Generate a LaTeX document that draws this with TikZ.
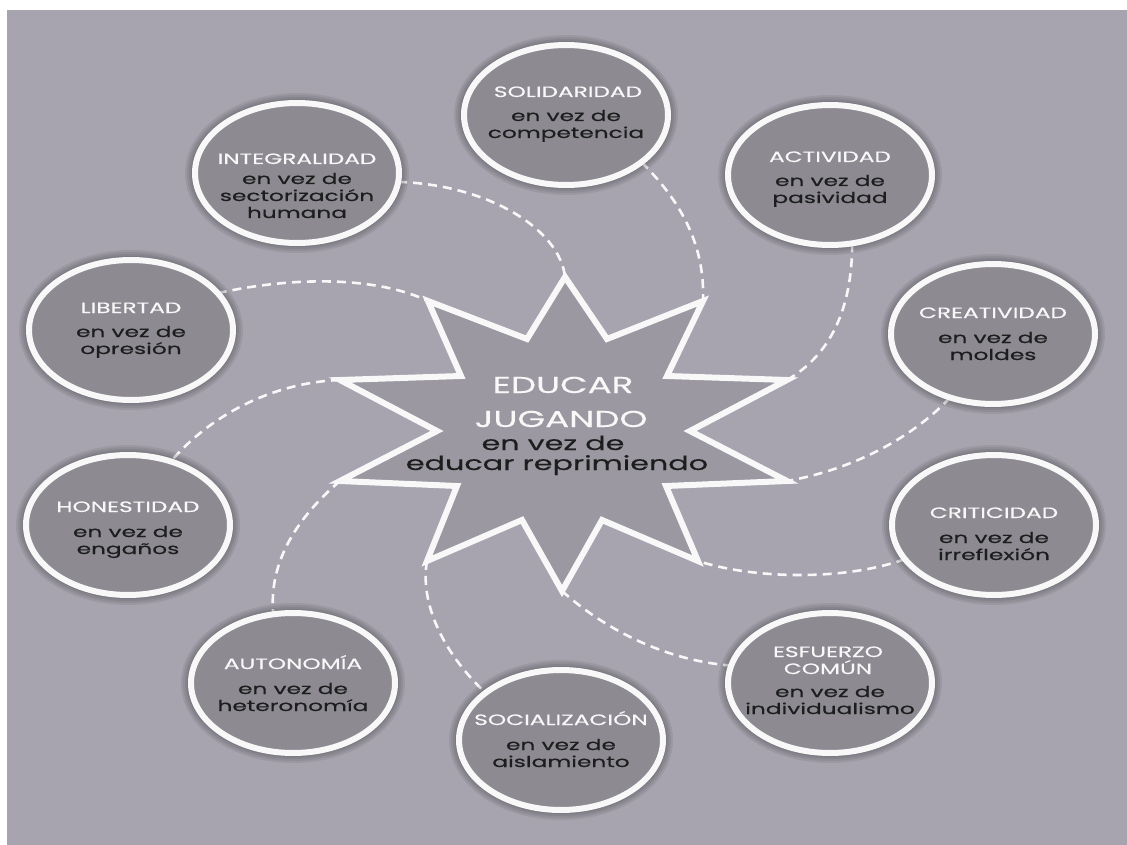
\documentclass[tikz,border=0pt]{standalone}
\usepackage{fontspec}
\usetikzlibrary{shapes.geometric}
\newfontfamily\tfont[FakeStretch=1.55,FakeBold=0.3]{Poppins}
\newfontfamily\sfont[FakeStretch=1.55,FakeBold=0.45]{Poppins}
\definecolor{bg}{RGB}{167,164,175}
\definecolor{circ}{RGB}{141,138,146}
\definecolor{starf}{RGB}{155,152,161}
\definecolor{dark}{RGB}{28,30,30}
\definecolor{ring}{RGB}{248,248,248}
\pgfdeclarelayer{background}
\pgfsetlayers{background,main}
\tikzset{
  bubble/.style={ellipse, minimum width=204pt, minimum height=140pt, inner sep=0pt, outer sep=0pt, fill=circ, draw=ring, line width=6pt},
  ttl/.style={anchor=base, text=ring, font=\tfont\fontsize{15}{16}\selectfont, inner sep=0pt},
  sub/.style={anchor=base, text=dark, font=\sfont\fontsize{15}{17}\selectfont, inner sep=0pt},
  bigttl/.style={anchor=base, text=ring, font=\tfont\fontsize{23}{24}\selectfont, inner sep=0pt},
  bigsub/.style={anchor=base, text=dark, font=\sfont\fontsize{19.5}{20}\selectfont, inner sep=0pt},
  link/.style={draw=ring, line width=2.6pt, dash pattern=on 9pt off 6pt},
  halo/.style={black, opacity=0.07}
}
\begin{document}
\begin{tikzpicture}[x=1pt,y=-1pt]
\useasboundingbox (0,0) rectangle (1127,845);
% star tips and inner vertices
\coordinate (t0) at (565,277);
\coordinate (i0) at (607,339);
\coordinate (t1) at (703,301);
\coordinate (i1) at (667,376);
\coordinate (t2) at (787,380);
\coordinate (i2) at (690,431);
\coordinate (t3) at (787,481);
\coordinate (i3) at (666,486);
\coordinate (t4) at (698,561);
\coordinate (i4) at (602,520);
\coordinate (t5) at (562,591);
\coordinate (i5) at (522,520);
\coordinate (t6) at (427,561);
\coordinate (i6) at (457,486);
\coordinate (t7) at (340,481);
\coordinate (i7) at (437,431);
\coordinate (t8) at (340,380);
\coordinate (i8) at (461,376);
\coordinate (t9) at (428,301);
\coordinate (i9) at (527,339);
\fill[starf] (t0)--(i0)--(t1)--(i1)--(t2)--(i2)--(t3)--(i3)--(t4)--(i4)--(t5)--(i5)--(t6)--(i6)--(t7)--(i7)--(t8)--(i8)--(t9)--(i9)--cycle;
\draw[ring, line width=6pt, line join=miter] (t0)--(i0)--(t1)--(i1)--(t2)--(i2)--(t3)--(i3)--(t4)--(i4)--(t5)--(i5)--(t6)--(i6)--(t7)--(i7)--(t8)--(i8)--(t9)--(i9)--cycle;
\node[bigttl] (c1) at (563,393) {EDUCAR};
\node[bigttl] (c2) at (561,427) {JUGANDO};
\node[bigsub] (c3) at (553,450) {en vez de};
\node[bigsub] (c4) at (557,470) {educar reprimiendo};

% bubbles
\node[bubble] (sol) at (566,115) {};
\node[ttl] (solt) at (568,97) {SOLIDARIDAD};
\node[sub] (sola) at (566,121) {en vez de};
\node[sub] (solb) at (566,138) {competencia};

\node[bubble] (act) at (830,175) {};
\node[ttl] (actt) at (830,162) {ACTIVIDAD};
\node[sub] (acta) at (830,186) {en vez de};
\node[sub] (actb) at (830,203) {pasividad};

\node[bubble] (cre) at (993,334) {};
\node[ttl] (cret) at (993,318) {CREATIVIDAD};
\node[sub] (crea) at (993,343) {en vez de};
\node[sub] (creb) at (993,360) {moldes};

\node[bubble] (cri) at (994,525) {};
\node[ttl] (crit) at (994,518) {CRITICIDAD};
\node[sub] (cria) at (994,543) {en vez de};
\node[sub] (crib) at (994,560) {irreflexión};

\node[bubble] (esf) at (830,683) {};
\node[ttl] (esft) at (828,657) {ESFUERZO};
\node[ttl] (esfu) at (828,674) {COMÚN};
\node[sub] (esfa) at (830,697) {en vez de};
\node[sub] (esfb) at (830,714) {individualismo};

\node[bubble] (soc) at (561,740) {};
\node[ttl] (soct) at (561,725) {SOCIALIZACIÓN};
\node[sub] (soca) at (561,750) {en vez de};
\node[sub] (socb) at (561,767) {aislamiento};

\node[bubble] (aut) at (293,683) {};
\node[ttl] (autt) at (293,669) {AUTONOMÍA};
\node[sub] (auta) at (293,694) {en vez de};
\node[sub] (autb) at (293,711) {heteronomía};

\node[bubble] (hon) at (128,525) {};
\node[ttl] (hont) at (128,512) {HONESTIDAD};
\node[sub] (hona) at (128,537) {en vez de};
\node[sub] (honb) at (128,554) {engaños};

\node[bubble] (lib) at (131,330) {};
\node[ttl] (libt) at (131,313) {LIBERTAD};
\node[sub] (liba) at (131,337) {en vez de};
\node[sub] (libb) at (131,354) {opresión};

\node[bubble] (int) at (297,173) {};
\node[ttl] (intt) at (297,164) {INTEGRALIDAD};
\node[sub] (inta) at (297,184) {en vez de};
\node[sub] (intb) at (297,201) {sectorización};
\node[sub] (intc) at (297,218) {humana};

\begin{pgfonlayer}{background}
\fill[white] (0,0) rectangle (1127,845);
\fill[bg] (7,10) rectangle (1127,845);
\draw[link] (int.-5) .. controls (490,185) and (560,230) .. (t0);
\draw[link] (sol.-32) .. controls (685,205) and (705,250) .. (t1);
\draw[link] (act.-72) .. controls (852,310) and (830,355) .. (t2);
\draw[link] (cre.236) .. controls (910,440) and (850,470) .. (t3);
\draw[link] (cri.201) .. controls (840,582) and (750,578) .. (t4);
\draw[link] (t5) .. controls (600,625) and (660,660) .. (esf.170);
\draw[link] (t6) .. controls (420,600) and (440,650) .. (soc.148);
\draw[link] (t7) .. controls (300,515) and (268,560) .. (aut.106);
\draw[link] (t8) .. controls (280,382) and (215,410) .. (hon.56);
\draw[link] (lib.23) .. controls (300,275) and (380,278) .. (t9);
\foreach \p in {sol,act,cre,cri,esf,soc,aut,hon,lib,int}{
  \foreach \d in {2,4,6,8}{
    \fill[halo] (\p.center) ellipse ({104+\d} and {72+\d});
  }
}
\end{pgfonlayer}
\end{tikzpicture}
\end{document}
